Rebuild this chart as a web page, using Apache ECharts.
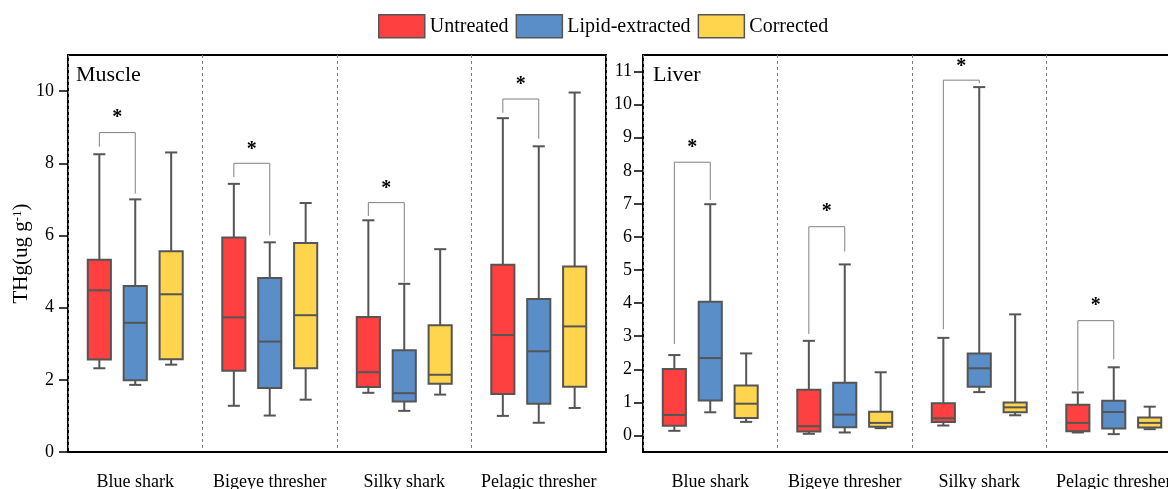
<!DOCTYPE html>
<html>
<head>
<meta charset="utf-8">
<script src="https://cdn.jsdelivr.net/npm/echarts@6/dist/echarts.min.js"></script>
<style>html,body{margin:0;padding:0;background:#fff;}#c{width:1168px;height:489px;}</style>
</head>
<body>
<div id="c"></div>
<script>
// ---- data ----
const categories = ['Blue shark', 'Bigeye thresher', 'Silky shark', 'Pelagic thresher'];
const treatments = ['Untreated', 'Lipid-extracted', 'Corrected'];
const panelTitles = ['Muscle', 'Liver'];
const muscleTicks = [0, 2, 4, 6, 8, 10];
const liverTicks = [0, 1, 2, 3, 4, 5, 6, 7, 8, 9, 10, 11];
// each row: [min, Q1, median, Q3, max]
const muscleUntreated = [[2.32, 2.56, 4.48, 5.33, 8.25], [1.28, 2.25, 3.73, 5.94, 7.43], [1.64, 1.80, 2.21, 3.74, 6.42], [1.00, 1.61, 3.24, 5.19, 9.25]];
const muscleLipid = [[1.86, 1.99, 3.58, 4.60, 7.00], [1.01, 1.77, 3.06, 4.82, 5.81], [1.14, 1.40, 1.63, 2.82, 4.66], [0.81, 1.34, 2.79, 4.24, 8.47]];
const muscleCorrected = [[2.42, 2.57, 4.37, 5.56, 8.30], [1.45, 2.32, 3.79, 5.79, 6.90], [1.59, 1.89, 2.14, 3.51, 5.62], [1.22, 1.81, 3.48, 5.14, 9.96]];
const liverUntreated = [[0.14, 0.29, 0.62, 2.01, 2.43], [0.05, 0.12, 0.28, 1.38, 2.86], [0.30, 0.41, 0.52, 0.97, 2.95], [0.09, 0.13, 0.38, 0.93, 1.30]];
const liverLipid = [[0.70, 1.06, 2.34, 4.04, 6.99], [0.09, 0.25, 0.63, 1.59, 5.17], [1.31, 1.47, 2.03, 2.48, 10.53], [0.04, 0.21, 0.71, 1.05, 2.06]];
const liverCorrected = [[0.41, 0.53, 0.96, 1.51, 2.48], [0.22, 0.26, 0.38, 0.72, 1.91], [0.61, 0.70, 0.85, 1.00, 3.66], [0.19, 0.24, 0.38, 0.54, 0.87]];
// significance brackets (Untreated vs Lipid-extracted): [left leg end, right leg end, bracket top, star]
const muscleSig = [[8.46, 7.16, 8.85, 9.40], [7.62, 6.00, 8.00, 8.52], [6.54, 4.70, 6.91, 7.44], [9.40, 8.68, 9.78, 10.32]];
const liverSig = [[2.76, 7.12, 8.26, 8.85], [3.07, 5.56, 6.31, 6.92], [3.21, 10.65, 10.74, 11.30], [1.35, 2.30, 3.47, 4.06]];
const sigLabel = '*';

// ---- styles ----
const FONT = '"Liberation Serif", "Times New Roman", serif';
const colors = ['#FF4040', '#5A8EC8', '#FFD54D'];
const edge = '#555555';
const offsets = [-0.267, 0, 0.267];

function boxRenderer(off) {
  return function (params, api) {
    const cat = api.value(0);
    const bw = api.size([1, 0])[0];
    const cx = api.coord([cat, 0])[0] + off * bw;
    const w = bw * 0.172, cw = bw * 0.09;
    const y = [1, 2, 3, 4, 5].map(i => api.coord([cat, api.value(i)])[1]);
    const ls = { stroke: edge, lineWidth: 2 };
    return {
      type: 'group',
      children: [
        { type: 'line', shape: { x1: cx, y1: y[0], x2: cx, y2: y[1] }, style: ls },
        { type: 'line', shape: { x1: cx, y1: y[3], x2: cx, y2: y[4] }, style: ls },
        { type: 'line', shape: { x1: cx - cw / 2, y1: y[0], x2: cx + cw / 2, y2: y[0] }, style: ls },
        { type: 'line', shape: { x1: cx - cw / 2, y1: y[4], x2: cx + cw / 2, y2: y[4] }, style: ls },
        { type: 'rect', shape: { x: cx - w / 2, y: y[3], width: w, height: y[1] - y[3] },
          style: { fill: api.visual('color'), stroke: edge, lineWidth: 2 } },
        { type: 'line', shape: { x1: cx - w / 2, y1: y[2], x2: cx + w / 2, y2: y[2] }, style: ls }
      ]
    };
  };
}

function sigRenderer(params, api) {
  const cat = api.value(0);
  const bw = api.size([1, 0])[0];
  const c0 = api.coord([cat, 0])[0];
  const xl = c0 + offsets[0] * bw, xr = c0 + offsets[1] * bw;
  const yl = api.coord([cat, api.value(1)])[1];
  const yr = api.coord([cat, api.value(2)])[1];
  const yt = api.coord([cat, api.value(3)])[1];
  const ys = api.coord([cat, api.value(4)])[1];
  return {
    type: 'group',
    children: [
      { type: 'polyline', shape: { points: [[xl, yl], [xl, yt], [xr, yt], [xr, yr]] },
        style: { stroke: '#808080', lineWidth: 1, fill: null } },
      { type: 'text', x: (xl + xr) / 2, y: ys + 5,
        style: { text: sigLabel, fill: '#000', font: 'bold 20px ' + FONT, align: 'center', verticalAlign: 'middle' } }
    ]
  };
}

const panelData = [
  [muscleUntreated, muscleLipid, muscleCorrected, muscleSig],
  [liverUntreated, liverLipid, liverCorrected, liverSig]
];

const series = [];
panelData.forEach((pd, p) => {
  treatments.forEach((t, k) => {
    series.push({
      type: 'custom', name: t, xAxisIndex: p, yAxisIndex: p,
      itemStyle: { color: colors[k], borderColor: edge, borderWidth: 1.5 },
      renderItem: boxRenderer(offsets[k]),
      encode: { x: 0, y: [1, 2, 3, 4, 5] },
      data: pd[k].map((r, i) => [i].concat(r)),
      silent: true, clip: false
    });
  });
  series.push({
    type: 'custom', name: 'sig' + p, xAxisIndex: p, yAxisIndex: p,
    renderItem: sigRenderer,
    encode: { x: 0, y: [1, 2, 3, 4] },
    data: pd[3].map((r, i) => [i].concat(r)),
    silent: true, clip: false
  });
});

function xAxis(p) {
  return {
    type: 'category', gridIndex: p, data: categories,
    axisLine: { show: true, onZero: false, lineStyle: { color: '#000', width: 2 } },
    axisTick: { show: false },
    axisLabel: { color: '#000', fontFamily: FONT, fontSize: 18, margin: 21, interval: 0 },
    splitLine: { show: true, interval: 0, lineStyle: { color: '#7a7a7a', type: [3, 3], width: 1 } },
    z: 1
  };
}

const option = {
  animation: false,
  backgroundColor: '#fff',
  textStyle: { fontFamily: FONT },
  legend: {
    left: 378, top: 14, padding: 0, itemWidth: 46, itemHeight: 23, itemGap: 7,
    icon: 'rect',
    data: treatments,
    textStyle: { color: '#000', fontFamily: FONT, fontSize: 20 },
    itemStyle: { borderColor: edge, borderWidth: 1.5 },
    selectedMode: false
  },
  title: [
    { text: panelTitles[0], left: 76, top: 64, padding: 0, textStyle: { fontFamily: FONT, fontSize: 22, fontWeight: 'normal', color: '#000' } },
    { text: panelTitles[1], left: 653, top: 64, padding: 0, textStyle: { fontFamily: FONT, fontSize: 22, fontWeight: 'normal', color: '#000' } }
  ],
  grid: [
    { left: 68, top: 55, width: 538, height: 397, outerBoundsMode: 'none', containLabel: false,
      show: true, borderColor: '#000', borderWidth: 2, backgroundColor: 'transparent' },
    { left: 643, top: 55, width: 538, height: 397, outerBoundsMode: 'none', containLabel: false,
      show: true, borderColor: '#000', borderWidth: 2, backgroundColor: 'transparent' }
  ],
  xAxis: [xAxis(0), xAxis(1)],
  yAxis: [
    {
      type: 'value', gridIndex: 0, min: 0, max: 11, interval: 1,
      name: 'THg(ug g{sup|-1})', nameLocation: 'middle', nameGap: 28, nameRotate: 90,
      nameTextStyle: { color: '#000', fontFamily: FONT, fontSize: 21,
        rich: { sup: { fontSize: 13, fontFamily: FONT, color: '#000', verticalAlign: 'top', padding: [0, 0, 9, 0] } } },
      axisLine: { show: true, lineStyle: { color: '#000', width: 2 } },
      axisTick: { show: true, inside: false, length: 9, lineStyle: { color: '#000', width: 1.5 }, customValues: muscleTicks },
      axisLabel: { color: '#000', fontFamily: FONT, fontSize: 18, margin: 14, customValues: muscleTicks },
      splitLine: { show: false }
    },
    {
      type: 'value', gridIndex: 1, min: -0.5, max: 11.5,
      axisLine: { show: true, lineStyle: { color: '#000', width: 2 } },
      axisTick: { show: true, inside: false, length: 9, lineStyle: { color: '#000', width: 1.5 }, customValues: liverTicks },
      axisLabel: { color: '#000', fontFamily: FONT, fontSize: 18, margin: 11, customValues: liverTicks },
      splitLine: { show: false }
    }
  ],
  series: series
};

const chart = echarts.init(document.getElementById('c'), null, { renderer: 'canvas' });
chart.setOption(option);
</script>
</body>
</html>
